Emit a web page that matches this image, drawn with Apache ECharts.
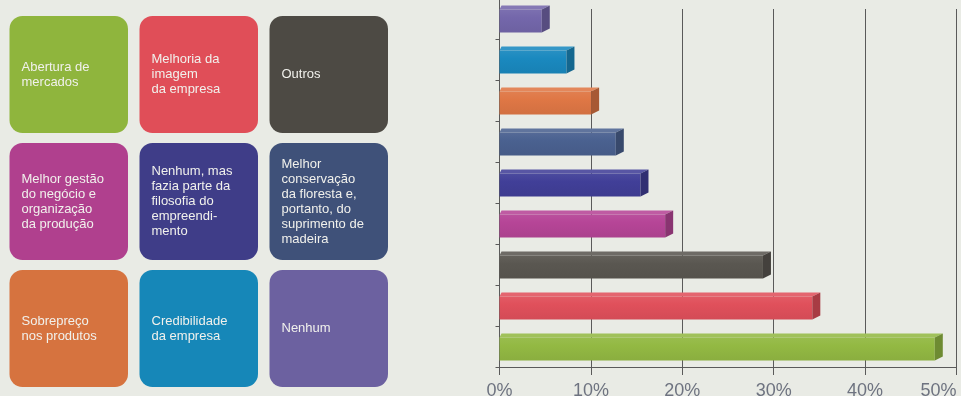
<!DOCTYPE html>
<html>
<head>
<meta charset="utf-8">
<script src="https://cdn.jsdelivr.net/npm/echarts@6/dist/echarts.min.js"></script>
<style>
  html, body { margin: 0; padding: 0; background: #e9ebe5; }
  #chart { width: 961px; height: 396px; }
</style>
</head>
<body>
<div id="chart"></div>
<script>
// Motivos para a certificação (bottom bar first)
const categories = [
  'Abertura de\nmercados',
  'Melhoria da\nimagem\nda empresa',
  'Outros',
  'Melhor gestão\ndo negócio e\norganização\nda produção',
  'Nenhum, mas\nfazia parte da\nfilosofia do\nempreendi-\nmento',
  'Melhor\nconservação\nda floresta e,\nportanto, do\nsuprimento de\nmadeira',
  'Sobrepreço\nnos produtos',
  'Credibilidade\nda empresa',
  'Nenhum'
];
// share of answers, %
const values = [48.5, 35.1, 29.7, 19.0, 16.3, 13.6, 10.9, 8.2, 5.5];
const barColors = ['#93b943', '#e0505b', '#5a5751', '#b64597', '#413f98', '#4a6190', '#df7745', '#1a89bf', '#7467ab'];
const boxColors = ['#8fb53d', '#e04e58', '#4d4a44', '#b0408e', '#3f3d88', '#3f5179', '#d6733f', '#1687b8', '#6c61a0'];
const tickLabels = ['0%', '10%', '20%', '30%', '40%', '50%'];

const chart = echarts.init(document.getElementById('chart'));

// mix a colour towards white (f > 0) or black (f < 0)
function shade(color, f) {
  const rgb = echarts.color.parse(color);
  const out = [0, 1, 2].map(k => {
    const ch = rgb[k];
    return Math.round(f >= 0 ? ch + (255 - ch) * f : ch * (1 + f));
  });
  return 'rgb(' + out.join(',') + ')';
}

// 3x3 block of coloured cards naming each category
const cardW = 118.5, cardH = 117, stepX = 130, stepY = 127, cardX0 = 9.5, cardY0 = 16;
const cards = [];
categories.forEach((name, i) => {
  const col = i % 3, row = Math.floor(i / 3);
  const x = cardX0 + col * stepX, y = cardY0 + row * stepY;
  cards.push({
    type: 'rect',
    shape: { x: x, y: y, width: cardW, height: cardH, r: 13 },
    style: { fill: boxColors[i] },
    z: 1
  });
  cards.push({
    type: 'text',
    x: x + 12,
    y: y + cardH / 2,
    style: {
      text: name,
      fill: '#f1f1ec',
      font: '13px "Liberation Sans", Arial, sans-serif',
      lineHeight: 15,
      align: 'left',
      verticalAlign: 'middle'
    },
    z: 2
  });
});

const DX = 8, DY = 4, FRONT_H = 23;

function renderBar(params, api) {
  const v = api.value(0), idx = api.value(1);
  const p0 = api.coord([0, idx]);
  const pv = api.coord([v, idx]);
  const cy = p0[1];
  const x0 = p0[0];
  const xb = pv[0];           // back edge sits at the value
  const xf = xb - DX;         // front face ends one depth step earlier
  const top = cy - 9;
  const bot = top + FRONT_H;
  const c = barColors[idx];
  return {
    type: 'group',
    children: [
      {
        type: 'polygon',
        shape: { points: [[x0, top], [xf, top], [xb, top - DY], [x0 + 2, top - DY]] },
        style: { fill: shade(c, 0.12) }
      },
      {
        type: 'rect',
        shape: { x: x0, y: top, width: xf - x0, height: FRONT_H },
        style: {
          fill: {
            type: 'linear', x: 0, y: 0, x2: 0, y2: 1,
            colorStops: [
              { offset: 0, color: shade(c, 0.06) },
              { offset: 0.35, color: c },
              { offset: 1, color: shade(c, -0.06) }
            ]
          }
        }
      },
      {
        type: 'polygon',
        shape: { points: [[xf, top], [xb, top - DY], [xb, bot - DY], [xf, bot]] },
        style: { fill: shade(c, -0.25) }
      }
    ]
  };
}

chart.setOption({
  backgroundColor: '#e9ebe5',
  animation: false,
  graphic: cards,
  grid: [
    { left: 499.5, right: 4.5, top: 9, bottom: 29, containLabel: false, outerBoundsMode: 'none' },
    { left: 499.5, right: 4.5, top: -2, bottom: 29, containLabel: false, outerBoundsMode: 'none' }
  ],
  xAxis: [
    {
      gridIndex: 0, type: 'value', min: 0, max: 50, interval: 10,
      axisLine: { show: true, lineStyle: { color: '#5a5a5a', width: 1 } },
      axisTick: { show: true, length: 8, lineStyle: { color: '#5a5a5a' } },
      splitLine: { show: true, lineStyle: { color: '#5a5a5a', width: 1 } },
      axisLabel: {
        margin: 15,
        color: '#6e7380',
        fontSize: 18,
        fontFamily: '"Liberation Sans", Arial, sans-serif',
        hideOverlap: false,
        alignMaxLabel: 'right',
        formatter: (val) => tickLabels[Math.round(val / 10)]
      }
    },
    {
      gridIndex: 1, type: 'value', min: 0, max: 50, interval: 10,
      show: false
    }
  ],
  yAxis: [
    { gridIndex: 0, type: 'category', data: categories, show: false },
    {
      gridIndex: 1, type: 'category', data: categories,
      axisLine: { show: true, lineStyle: { color: '#5a5a5a', width: 1 } },
      axisTick: { show: true, length: 4, lineStyle: { color: '#5a5a5a' } },
      axisLabel: { show: false },
      splitLine: { show: false }
    }
  ],
  series: [
    {
      type: 'custom',
      xAxisIndex: 1,
      yAxisIndex: 1,
      renderItem: renderBar,
      encode: { x: 0, y: 1 },
      data: values.map((v, i) => [v, i]),
      z: 5
    }
  ]
});
</script>
</body>
</html>
